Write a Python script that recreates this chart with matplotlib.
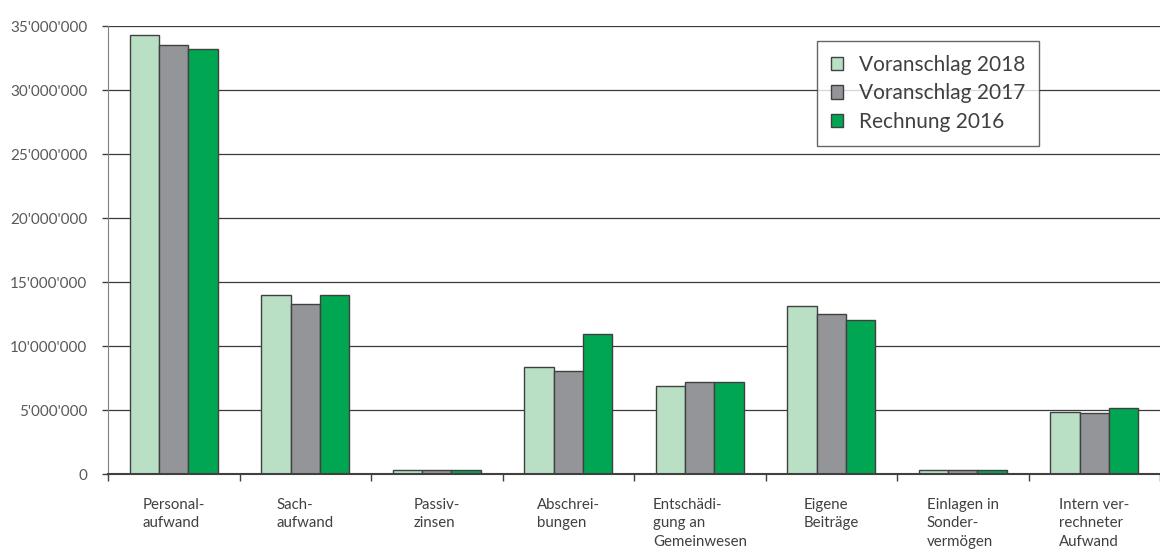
import numpy as np
import matplotlib.pyplot as plt
from matplotlib.ticker import FuncFormatter, FixedLocator

plt.rcParams['font.family'] = ['Lato', 'DejaVu Sans']

# categories and series (CHF)
categories = ["Personal-\naufwand", "Sach-\naufwand", "Passiv-\nzinsen",
              "Abschrei-\nbungen", "Entschädi-\ngung an\nGemeinwesen",
              "Eigene\nBeiträge", "Einlagen in\nSonder-\nvermögen",
              "Intern ver-\nrechneter\nAufwand"]
va_2018 = [34_320_000, 13_980_000, 350_000, 8_380_000, 6_880_000, 13_150_000, 290_000, 4_820_000]
va_2017 = [33_520_000, 13_300_000, 330_000, 8_020_000, 7_190_000, 12_530_000, 280_000, 4_770_000]
re_2016 = [33_180_000, 14_000_000, 350_000, 10_960_000, 7_190_000, 12_030_000, 280_000, 5_130_000]
series_names = ["Voranschlag 2018", "Voranschlag 2017", "Rechnung 2016"]
colors = ["#b9dfc5", "#949599", "#00a651"]

fig = plt.figure(figsize=(11.6, 5.52), dpi=100)
ax = fig.add_axes([108 / 1160, 78 / 552, 1 - 108 / 1160, 448 / 552])

x = np.arange(len(categories))
w = 0.223
for i, (vals, name, c) in enumerate(zip([va_2018, va_2017, re_2016], series_names, colors)):
    ax.bar(x + (i - 1) * w, vals, width=w, color=c, edgecolor="#404040",
           linewidth=1.0, label=name, zorder=3)

ax.set_xlim(-0.5, len(categories) - 0.5)
ax.set_ylim(0, 35_000_000)
ax.yaxis.set_major_locator(FixedLocator(np.arange(0, 35_000_001, 5_000_000)))
ax.yaxis.set_major_formatter(FuncFormatter(lambda v, p: f"{int(v):,}".replace(",", "'")))
ax.grid(axis="y", color="#3a3a3a", linewidth=0.9, zorder=0)

# category boundary ticks, labels in between
ax.set_xticks(np.arange(-0.5, len(categories)), minor=False)
ax.set_xticklabels([])
ax.tick_params(axis="x", length=5, width=1, color="#404040")
ax.tick_params(axis="y", length=4, width=1, color="#404040", pad=11,
               labelsize=11, labelcolor="#595959")
for xi, lab in zip(x, categories):
    ax.text(xi, -0.053, lab, transform=ax.get_xaxis_transform(), ha="center",
            va="top", multialignment="left", fontsize=10.8, color="#404040",
            linespacing=1.42)

for side in ["top", "right"]:
    ax.spines[side].set_visible(False)
ax.spines["left"].set_color("#808080")
ax.spines["bottom"].set_color("#404040")
ax.spines["bottom"].set_linewidth(1.5)
ax.spines["bottom"].set_zorder(4)

leg = ax.legend(loc="upper left", bbox_to_anchor=((817 - 108) / 1052, (474 - 41) / 448),
                fontsize=15, frameon=True, fancybox=False, edgecolor="#404040",
                handlelength=0.6, handleheight=0.6, handletextpad=0.75,
                labelspacing=0.42, borderpad=0.65, borderaxespad=0)
leg.get_frame().set_linewidth(1.0)
leg.set_zorder(5)
for t in leg.get_texts():
    t.set_color("#404040")

fig.savefig("out.png", dpi=100)
